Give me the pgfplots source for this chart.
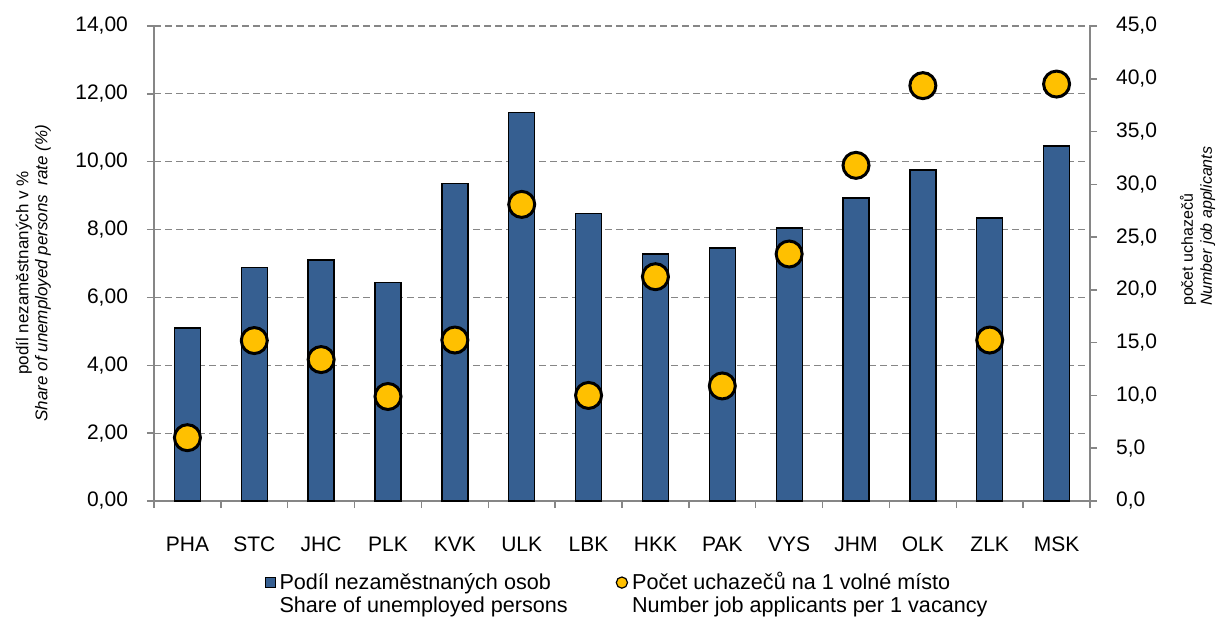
\documentclass[border=0pt]{standalone}
\usepackage{pgfplots}
\pgfplotsset{compat=1.18}
\usepackage{fontspec}
\setmainfont{Liberation Sans}
\definecolor{barblue}{RGB}{54,95,145}
\definecolor{mkyellow}{RGB}{255,192,0}
\definecolor{axgray}{RGB}{134,134,134}
\begin{document}
\begin{tikzpicture}
\useasboundingbox (-77pt,-57.5pt) rectangle (535pt,250.5pt);
\begin{axis}[
  scale only axis, width=468pt, height=237.5pt, at={(0,0)}, anchor=south west,
  xmin=-0.5, xmax=13.5, ymin=0, ymax=14,
  axis x line*=bottom, axis y line*=left,
  axis line style={axgray, line width=0.75pt},
  xtick={-0.5,0.5,...,13.5}, x tick label as interval,
  xticklabels={PHA,STC,JHC,PLK,KVK,ULK,LBK,HKK,PAK,VYS,JHM,OLK,ZLK,MSK},
  xticklabel style={anchor=center, yshift=-18pt},
  ytick={0,2,...,14},
  tick align=outside, major tick length=3.5pt,
  tick style={axgray, line width=0.75pt},
  ymajorgrids, grid style={axgray, line width=0.6pt, dash pattern=on 3.5pt off 2pt},
  ticklabel style={font=\fontsize{10.5}{12}\selectfont},
  yticklabel style={xshift=-6pt, /pgf/number format/fixed, /pgf/number format/fixed zerofill, /pgf/number format/precision=2, /pgf/number format/use comma, /pgf/number format/assume math mode=true},
  ylabel={podíl nezaměstnaných v \%\\\textit{Share of unemployed persons\ \ rate (\%)}},
  ylabel style={align=center, font=\fontsize{8.5}{9.5}\selectfont, at={(axis description cs:-0.129,0.48)}, anchor=center},
]
\addplot[ybar, bar width=13pt, fill=barblue, draw=black, line width=0.65pt] coordinates {
(0,5.10) (1,6.88) (2,7.10) (3,6.45) (4,9.35) (5,11.46) (6,8.47)
(7,7.28) (8,7.46) (9,8.05) (10,8.93) (11,9.76) (12,8.34) (13,10.46)};
\end{axis}
\begin{axis}[
  scale only axis, width=468pt, height=237.5pt, at={(0,0)}, anchor=south west,
  xmin=-0.5, xmax=13.5, ymin=0, ymax=45,
  axis x line=none, axis y line*=right,
  axis line style={axgray, line width=0.75pt},
  ytick={0,5,...,45},
  tick align=outside, major tick length=3.5pt,
  tick style={axgray, line width=0.75pt},
  ticklabel style={font=\fontsize{10.5}{12}\selectfont},
  yticklabel style={xshift=6pt, /pgf/number format/fixed, /pgf/number format/fixed zerofill, /pgf/number format/precision=1, /pgf/number format/use comma, /pgf/number format/assume math mode=true},
  ylabel={počet uchazečů\\\textit{Number job applicants}},
  ylabel style={align=left, font=\fontsize{8}{9.5}\selectfont, at={(axis description cs:1.1149,0.396)}, anchor=west},
  legend style={at={(0.5,-0.141)}, xshift=3pt, anchor=north, draw=none, fill=none, inner sep=0pt,
    font=\fontsize{10.8}{11.5}\selectfont, legend columns=2,
    /tikz/every even column/.append style={column sep=22pt}},
  legend cell align=left,
]
\addlegendimage{legend image code/.code={\draw[fill=barblue, draw=black, line width=0.5pt] (0pt,-2.5pt) rectangle (5pt,2.5pt);}}
\addlegendentry{\begin{tabular}[t]{@{}l@{}}Podíl nezaměstnaných osob\\Share of unemployed persons\end{tabular}}
\addlegendimage{legend image code/.code={\draw[fill=mkyellow, draw=black, line width=0.6pt] (2.5pt,0pt) circle (2.8pt);}}
\addlegendentry{\begin{tabular}[t]{@{}l@{}}Počet uchazečů na 1 volné místo\\Number job applicants per 1 vacancy\end{tabular}}
\addplot[only marks, mark=*, mark size=6.5pt, mark options={fill=mkyellow, draw=black, line width=1.5pt}, forget plot] coordinates {
(0,6.0) (1,15.2) (2,13.4) (3,9.9) (4,15.25) (5,28.1) (6,10.0)
(7,21.25) (8,10.9) (9,23.4) (10,31.8) (11,39.35) (12,15.25) (13,39.5)};
\end{axis}
\end{tikzpicture}
\end{document}
